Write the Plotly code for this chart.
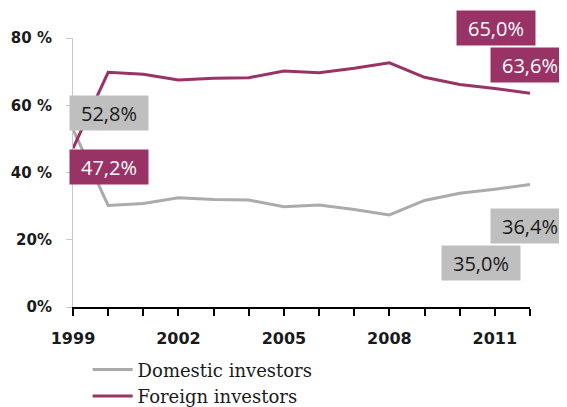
import plotly.graph_objects as go

# Shareholding of listed companies, by investor type
YEARS = list(range(1999, 2013))
FOREIGN = [47.2, 69.8, 69.2, 67.5, 68.0, 68.2, 70.2, 69.7, 71.0, 72.6, 68.3, 66.2, 65.0, 63.6]
DOMESTIC = [52.8, 30.2, 30.8, 32.5, 32.0, 31.8, 29.8, 30.3, 29.0, 27.4, 31.7, 33.8, 35.0, 36.4]

Y_TICKS = [0, 20, 40, 60, 80]
Y_TICKTEXT = ["0%", "20%", "40 %", "60 %", "80 %"]
X_TICKS = [1999, 2002, 2005, 2008, 2011]

PURPLE = "#993366"
GREY_LINE = "#ABABAB"
GREY_BOX = "#BFBFBF"
INK = "#1A1A1A"

fig = go.Figure()
fig.add_trace(go.Scatter(x=YEARS, y=DOMESTIC, mode="lines", name="Domestic investors",
                         line=dict(color=GREY_LINE, width=3)))
fig.add_trace(go.Scatter(x=YEARS, y=FOREIGN, mode="lines", name="Foreign investors",
                         line=dict(color=PURPLE, width=3)))

# data labels (year index, series, box colours, box centre in paper units)
labels = [
    (0, DOMESTIC, GREY_BOX, INK, 0.079, 0.721),
    (0, FOREIGN, PURPLE, "white", 0.079, 0.522),
    (12, FOREIGN, PURPLE, "white", 0.926, 1.037),
    (13, FOREIGN, PURPLE, "white", 1.0, 0.901),
    (13, DOMESTIC, GREY_BOX, INK, 1.0, 0.301),
    (12, DOMESTIC, GREY_BOX, INK, 0.893, 0.162),
]
for i, series, bg, fc, ax, ay in labels:
    fig.add_annotation(
        x=ax, y=ay, xref="paper", yref="paper", xanchor="center", yanchor="middle",
        text=f"{series[i]:.1f}%".replace(".", ","),
        showarrow=False, bgcolor=bg, width=72, height=28, borderpad=3,
        font=dict(family="Open Sans", size=20, color=fc),
    )

# page body keeps an 8px margin, so the figure is 8px smaller than the window
fig.update_layout(
    width=559, height=399,
    margin=dict(l=65, r=37, t=30, b=100, autoexpand=False),
    paper_bgcolor="white", plot_bgcolor="white",
    showlegend=True,
    legend=dict(x=0.032, y=-0.165, xanchor="left", yanchor="top", orientation="v",
                font=dict(family="DejaVu Serif", size=18, color=INK),
                tracegroupgap=0, itemwidth=40, bgcolor="rgba(0,0,0,0)"),
)
fig.update_xaxes(
    range=[1999, 2012], tickvals=X_TICKS, showgrid=False, zeroline=False,
    showline=True, linecolor="black", linewidth=2,
    ticks="outside", ticklen=7, tickwidth=2, tickcolor="black",
    minor=dict(dtick=1, tick0=1999, ticks="outside", ticklen=7, tickwidth=2, tickcolor="black"),
    tickfont=dict(family="DejaVu Sans", size=16, color=INK, weight="bold"),
    ticklabelstandoff=9,
)
fig.update_yaxes(
    range=[0, 80], tickvals=Y_TICKS, ticktext=Y_TICKTEXT, showgrid=False, zeroline=False,
    showline=True, linecolor="#C8C8C8", linewidth=1,
    ticks="outside", ticklen=6, tickcolor="#C8C8C8",
    tickfont=dict(family="DejaVu Sans", size=15, color=INK, weight="bold"),
    ticklabelstandoff=11,
)

fig.write_html("out.html")
